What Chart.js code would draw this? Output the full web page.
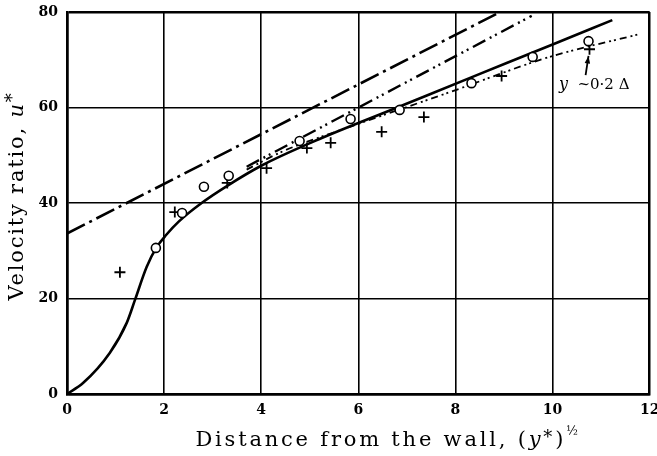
<!DOCTYPE html>
<html>
<head>
<meta charset="utf-8">
<title>Velocity ratio vs distance from the wall</title>
<script src="https://cdn.jsdelivr.net/npm/chart.js@4.4.1/dist/chart.umd.min.js"></script>
<style>
  html, body { margin: 0; padding: 0; background: #fff; }
  #wrap { width: 657px; height: 456px; }
</style>
</head>
<body>
<div id="wrap"><canvas id="velocityChart" width="657" height="456"></canvas></div>
<script>
// axis ranges and tick spacing
const xRange = [0, 12];
const yRange = [0, 80];
const xStep = 2;
const yStep = 20;

// full velocity profile (solid curve)
const profileX = [0, 0.33, 0.88, 1.23, 1.40, 1.64, 1.85, 2.05, 2.3, 2.8, 3.3, 4.0, 5.2, 6.8, 8.3, 10.0, 11.23];
const profileY = [0, 2.3, 8.6, 14.9, 19.7, 26.6, 30.8, 33.4, 36.1, 40.2, 43.6, 47.8, 53.4, 60.0, 66.2, 73.2, 78.3];

// upper chain line (long dash, dot)
const upperX = [0, 8.9];
const upperY = [33.6, 79.9];

// middle chain line (dash, two dots)
const middleX = [3.7, 9.57];
const middleY = [47.6, 79.2];

// lower chain line, fine dash-dot-dot
const lowerX = [3.7, 4.44, 5.84, 7.88, 9.94, 11.8];
const lowerY = [47.0, 50.8, 56.0, 63.2, 70.6, 75.4];

// measurements: open circles
const circleX = [1.83, 2.37, 2.82, 3.33, 4.79, 5.84, 6.85, 8.33, 9.59, 10.74];
const circleY = [30.6, 37.9, 43.4, 45.7, 53.0, 57.6, 59.5, 65.1, 70.6, 73.9];

// measurements: crosses
const crossX = [1.09, 2.22, 3.3, 4.11, 4.94, 5.43, 6.48, 7.35, 8.95, 10.76];
const crossY = [25.5, 38.1, 44.2, 47.3, 51.5, 52.6, 54.9, 58.0, 66.6, 72.2];

// note marking the edge of the wall layer
const noteText = "~0·2 Δ";
const notePos = [10.13, 65.1];
const arrowFrom = [10.68, 66.8];
const arrowTo = [10.74, 70.8];

const toPoints = (xs, ys) => xs.map((v, i) => ({ x: v, y: ys[i] }));

const serif = "'DejaVu Serif', 'Liberation Serif', serif";

// draws a row of text pieces with their own fonts / vertical offsets
function drawRuns(ctx, runs, x, y, align, spacing) {
    ctx.save();
    ctx.letterSpacing = spacing || "0px";
    let total = 0;
    runs.forEach(r => { ctx.font = r.font; r.w = ctx.measureText(r.text).width; total += r.w; });
    let cx = align === "center" ? x - total / 2 : x;
    ctx.textAlign = "left";
    ctx.textBaseline = "alphabetic";
    runs.forEach(r => {
        ctx.font = r.font;
        ctx.fillText(r.text, cx, y + (r.dy || 0));
        cx += r.w;
    });
    ctx.restore();
}

const extrasPlugin = {
    id: "extras",
    afterDraw(chart) {
        const { ctx } = chart;
        const xs = chart.scales.x, ys = chart.scales.y;
        ctx.fillStyle = "#000";

        // x axis title
        drawRuns(ctx, [
            { text: "Distance from the wall, (", font: "21px " + serif },
            { text: "y", font: "italic 21px " + serif },
            { text: "*", font: "18px " + serif, dy: -3 },
            { text: ")", font: "21px " + serif },
            { text: "½", font: "12px " + serif, dy: -11 }
        ], 388, 446, "center", "2.8px");

        // y axis title, rotated
        ctx.save();
        ctx.translate(23, 196);
        ctx.rotate(-Math.PI / 2);
        drawRuns(ctx, [
            { text: "Velocity ratio, ", font: "21px " + serif },
            { text: "u", font: "italic 21px " + serif },
            { text: "*", font: "18px " + serif, dy: -5 }
        ], 0, 0, "center", "1.8px");
        ctx.restore();

        // note with arrow
        const nx = xs.getPixelForValue(notePos[0]);
        const ny = ys.getPixelForValue(notePos[1]);
        drawRuns(ctx, [
            { text: "y", font: "italic 16px " + serif },
            { text: "  " + noteText, font: "15px " + serif }
        ], nx, ny + 6, "left", "0px");

        const ax = xs.getPixelForValue(arrowFrom[0]), ay = ys.getPixelForValue(arrowFrom[1]);
        const bx = xs.getPixelForValue(arrowTo[0]), by = ys.getPixelForValue(arrowTo[1]);
        ctx.save();
        ctx.strokeStyle = "#000";
        ctx.lineWidth = 1.8;
        ctx.beginPath();
        ctx.moveTo(ax, ay);
        ctx.lineTo(bx, by);
        ctx.stroke();
        const ang = Math.atan2(by - ay, bx - ax);
        ctx.beginPath();
        ctx.moveTo(bx, by);
        ctx.lineTo(bx - 8 * Math.cos(ang - 0.35), by - 8 * Math.sin(ang - 0.35));
        ctx.lineTo(bx - 8 * Math.cos(ang + 0.35), by - 8 * Math.sin(ang + 0.35));
        ctx.closePath();
        ctx.fill();
        ctx.restore();
    }
};

const edgeWidth = (ctx, lo, hi) => (ctx.tick && (ctx.tick.value === lo || ctx.tick.value === hi)) ? 2.5 : 1.6;

const lineStyle = {
    showLine: true,
    pointRadius: 0,
    borderColor: "#000",
    backgroundColor: "#000",
    fill: false,
    order: 2
};

new Chart(document.getElementById("velocityChart"), {
    type: "scatter",
    data: {
        datasets: [
            {
                label: "circles",
                data: toPoints(circleX, circleY),
                pointStyle: "circle",
                pointRadius: 4.5,
                pointBorderWidth: 1.6,
                pointBorderColor: "#000",
                pointBackgroundColor: "#fff",
                order: 0
            },
            {
                label: "crosses",
                data: toPoints(crossX, crossY),
                pointStyle: "cross",
                pointRadius: 5.5,
                pointBorderWidth: 1.8,
                pointBorderColor: "#000",
                order: 1
            },
            Object.assign({}, lineStyle, {
                label: "profile",
                data: toPoints(profileX, profileY),
                borderWidth: 2.6,
                cubicInterpolationMode: "monotone"
            }),
            Object.assign({}, lineStyle, {
                label: "upper",
                data: toPoints(upperX, upperY),
                borderWidth: 2.6,
                borderDash: [20, 5, 3, 5]
            }),
            Object.assign({}, lineStyle, {
                label: "middle",
                data: toPoints(middleX, middleY),
                borderWidth: 2.4,
                borderDash: [14, 5, 2, 4, 2, 5]
            }),
            Object.assign({}, lineStyle, {
                label: "lower",
                data: toPoints(lowerX, lowerY),
                borderWidth: 1.8,
                borderDash: [7, 4, 2, 3, 2, 4],
                cubicInterpolationMode: "monotone"
            })
        ]
    },
    options: {
        responsive: false,
        animation: false,
        events: [],
        layout: { padding: { top: 12, right: 7, left: 0, bottom: 0 } },
        plugins: {
            legend: { display: false },
            tooltip: { enabled: false }
        },
        scales: {
            x: {
                type: "linear",
                min: xRange[0],
                max: xRange[1],
                ticks: { stepSize: xStep, padding: 8, color: "#000", font: { family: serif, size: 14, weight: "bold" } },
                grid: { color: "#000", lineWidth: c => edgeWidth(c, xRange[0], xRange[1]), drawTicks: false },
                border: { display: true, color: "#000", width: 2.5 },
                afterFit: s => { s.height = 62; s.paddingLeft = 0; s.paddingRight = 0; }
            },
            y: {
                type: "linear",
                min: yRange[0],
                max: yRange[1],
                ticks: { stepSize: yStep, padding: 9, color: "#000", font: { family: serif, size: 14, weight: "bold" } },
                grid: { color: "#000", lineWidth: c => edgeWidth(c, yRange[0], yRange[1]), drawTicks: false },
                border: { display: true, color: "#000", width: 2.5 },
                afterFit: s => { s.width = 67; s.paddingTop = 0; s.paddingBottom = 0; }
            }
        }
    },
    plugins: [extrasPlugin]
});
</script>
</body>
</html>
